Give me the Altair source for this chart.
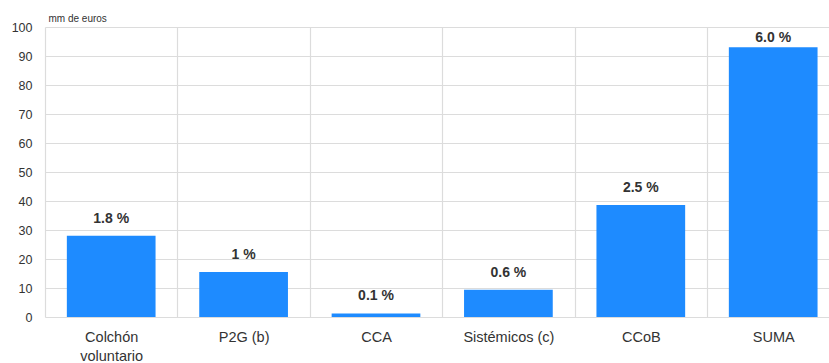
import altair as alt
import pandas as pd

# Amounts in mm de euros, with the percentage shown above each bar
categories = ["Colchón voluntario", "P2G (b)", "CCA", "Sistémicos (c)", "CCoB", "SUMA"]
amounts = [28.0, 15.5, 1.2, 9.4, 38.6, 93.0]
pct_labels = ["1.8 %", "1 %", "0.1 %", "0.6 %", "2.5 %", "6.0 %"]

df = pd.DataFrame({"cat": categories, "value": amounts, "label": pct_labels})

BLUE = "#1e8bff"
GRID = "#dcdcdc"
TEXT = "#333333"
FONT = "Liberation Sans"

x_scale = alt.Scale(range=[0, 794.4], paddingInner=0, paddingOuter=0)
y_scale = alt.Scale(domain=[0, 100], nice=False)

x_axis = alt.Axis(
    tickBand="extent",
    grid=True,
    gridColor=GRID,
    gridWidth=1.2,
    ticks=False,
    domain=False,
    labelAngle=0,
    labelFont=FONT,
    labelFontSize=14.5,
    labelColor=TEXT,
    labelPadding=13,
    labelLineHeight=19,
    labelExpr="indexof(datum.label, 'voluntario') > 0 ? split(datum.label, ' ') : datum.label",
)

y_axis = alt.Axis(
    values=list(range(0, 101, 10)),
    labelOverlap=False,
    grid=True,
    gridColor=GRID,
    gridWidth=1.2,
    ticks=False,
    domain=False,
    labelFont=FONT,
    labelFontSize=12.5,
    labelColor=TEXT,
    labelPadding=13,
    title="mm de euros",
    titleAngle=0,
    titleAlign="left",
    titleBaseline="alphabetic",
    titleX=3,
    titleY=-6,
    titleFont=FONT,
    titleFontSize=10,
    titleFontWeight="normal",
    titleColor=TEXT,
)

bars = alt.Chart(df).mark_bar(color=BLUE, width=alt.RelativeBandSize(0.67)).encode(
    x=alt.X("cat:N", sort=categories, title=None, scale=x_scale, axis=x_axis),
    y=alt.Y("value:Q", title="mm de euros", scale=y_scale, axis=y_axis),
)

labels = (
    alt.Chart(df)
    .transform_calculate(label_y="min(datum.value + 4.5, 94.8)")
    .mark_text(font=FONT, fontSize=14, fontWeight="bold", color=TEXT, baseline="alphabetic")
    .encode(
        x=alt.X("cat:N", sort=categories, title=None, scale=x_scale, axis=x_axis),
        y=alt.Y("label_y:Q", title="mm de euros", scale=y_scale, axis=y_axis),
        text="label:N",
    )
)

chart = (
    alt.layer(bars, labels)
    .properties(
        width=784,
        height=290,
        autosize=alt.AutoSizeParams(type="none"),
        padding={"left": 45, "top": 27, "right": 0, "bottom": 46},
        background="white",
    )
    .configure_view(stroke=None)
)

chart.save("out.html", embed_options={"renderer": "svg", "actions": False})
